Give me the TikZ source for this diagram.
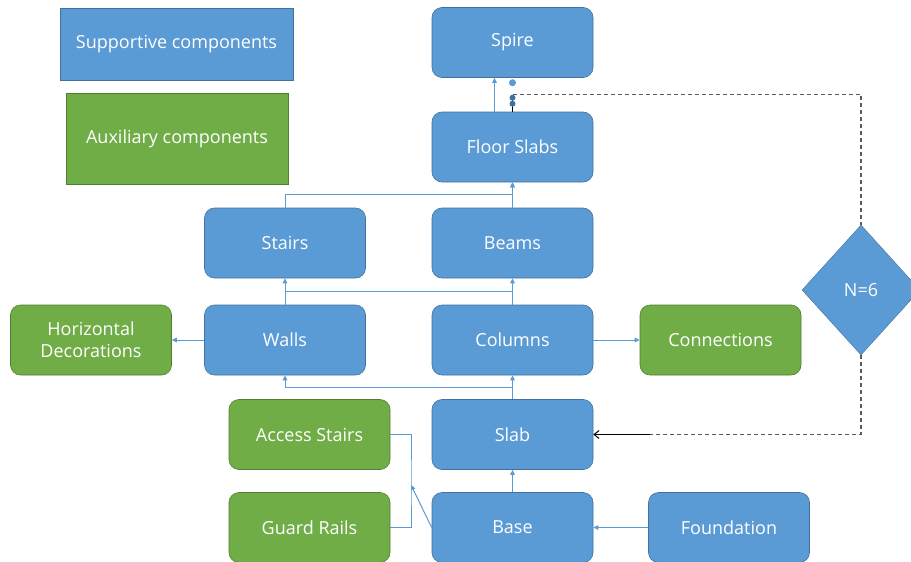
\documentclass[tikz,border=0pt]{standalone}
\usepackage{fontspec}
\setmainfont{Open Sans}
\usetikzlibrary{arrows.meta, positioning, shapes.geometric}
\definecolor{color_supp}{RGB}{91,155,213}
\definecolor{color_suppb}{RGB}{65,113,156}
\definecolor{color_aux}{RGB}{112,173,71}
\definecolor{color_auxb}{RGB}{80,126,50}
\definecolor{color_link}{RGB}{91,155,213}
\definecolor{color_dash}{RGB}{90,90,90}

\begin{document}
\begin{tikzpicture}[x=1pt, y=-1pt,
	part/.style={draw=color_suppb, fill=color_supp, rounded corners=10pt, line width=0.6pt,
		minimum width=161pt, minimum height=70pt, text=white, align=center,
		font=\fontsize{18}{22}\selectfont},
	aux/.style={part, draw=color_auxb, fill=color_aux},
	legend/.style={part, rounded corners=0pt},
	link/.style={draw=color_link, line width=1pt, -{Triangle[length=5pt,width=4.5pt]}},
	bar/.style={draw=color_link, line width=1pt},
	repeatline/.style={draw=color_dash, dash pattern=on 4pt off 3pt, line width=1.2pt}]
	\useasboundingbox (0,0) rectangle (911,562);
	% LEGEND
	\node[legend, minimum width=233pt, minimum height=72pt] (lsupp) at (176.5,44) {Supportive components};
	\node[legend, aux, rounded corners=0pt, minimum width=222pt, minimum height=91pt] (laux) at (177,138.5) {Auxiliary components};
	% SUPPORTIVE COMPONENTS
	\node[part] (spire) at (512.5,42.5) {Spire};
	\node[part] (floor) at (512.5,147) {Floor Slabs};
	\node[part] (stairs) at (285,243) {Stairs};
	\node[part] (beams) at (512.5,243) {Beams};
	\node[part] (walls) at (285,340) {Walls};
	\node[part] (columns) at (512.5,340) {Columns};
	\node[part] (slab) at (512.5,434.5) {Slab};
	\node[part] (base) at (512.5,527.5) {Base};
	\node[part] (found) at (729,527.5) {Foundation};
	\node[diamond, draw=color_suppb, fill=color_supp, text=white, minimum width=118pt, minimum height=130pt,
		font=\fontsize{18}{22}\selectfont] (check) at (861,290) {N=6};
	% AUXILIARY COMPONENTS
	\node[aux] (hdeco) at (91,340) {Horizontal\\Decorations};
	\node[aux] (conn) at (720.5,340) {Connections};
	\node[aux] (access) at (309.5,434.5) {Access Stairs};
	\node[aux] (guard) at (309.5,527.5) {Guard Rails};
	% CONNECTORS
	\draw[link] ([xshift=-18pt]floor.north) -- ([xshift=-18pt]spire.south);
	\draw[link] (stairs.north) -- ++(0,-13) -| (floor.south);
	\draw[link] (beams.north) -- (floor.south);
	\draw[link] (walls.north) -- (stairs.south);
	\draw[link] (columns.north) -- (beams.south);
	\draw[bar] ([yshift=13pt]walls.north) -- ([yshift=13pt]columns.north);
	\draw[link] (slab.north) -- (columns.south);
	\draw[link] ([yshift=12pt]slab.north) -| (walls.south);
	\draw[link] (walls.west) -- (hdeco.east);
	\draw[link] (columns.east) -- (conn.west);
	\draw[link] (base.north) -- (slab.south);
	\draw[link] (found.west) -- (base.east);
	\coordinate (brk) at (411,485);
	\draw[bar] (access.east) -| (brk) |- (guard.east);
	\draw[link] (base.west) -- (brk);
	% REPEAT LOOP
	\draw[black, line width=1pt] (floor.north) -- ([yshift=15pt]floor.north);
	\draw[repeatline] ([yshift=17pt]floor.north) -| (check.north);
	\coordinate (back) at ([xshift=57pt]slab.east);
	\draw[repeatline] (check.south) |- (back);
	\draw[black, line width=1pt, -{Straight Barb[length=5pt,width=8pt]}] (back) -- (slab.east);
	\fill[color_supp] ([yshift=29pt]floor.north) circle (3.5pt);
	\fill[color_suppb] ([yshift=14pt]floor.north) circle (3pt);
	\fill[color_suppb] ([yshift=8pt]floor.north) circle (3pt);
\end{tikzpicture}
\end{document}
